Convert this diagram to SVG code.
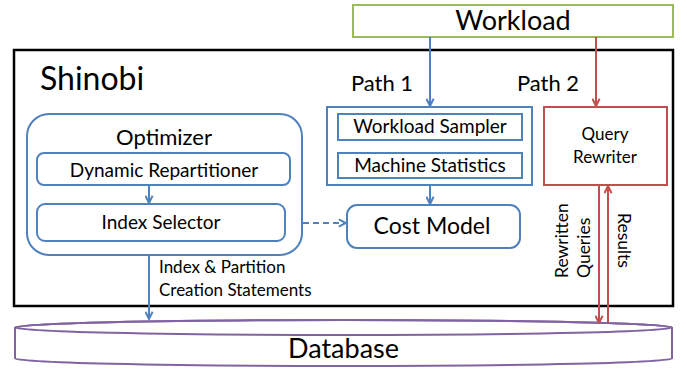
<svg xmlns="http://www.w3.org/2000/svg" width="687" height="369" viewBox="0 0 687 369">
  <defs>
    <marker id="arrowBlue" viewBox="0 0 10 10" refX="9" refY="5" markerWidth="9" markerHeight="9" markerUnits="userSpaceOnUse" orient="auto">
      <path d="M1,1 L9,5 L1,9" fill="none" stroke="#4F81BD" stroke-width="2.2"/>
    </marker>
    <marker id="arrowRed" viewBox="0 0 10 10" refX="9" refY="5" markerWidth="9" markerHeight="9" markerUnits="userSpaceOnUse" orient="auto">
      <path d="M1,1 L9,5 L1,9" fill="none" stroke="#C0504D" stroke-width="2.2"/>
    </marker>
  </defs>
  <style>
    text { font-family: Lato, "Liberation Sans", sans-serif; fill: #000; }
    .blue { fill: #fff; stroke: #4F81BD; stroke-width: 2; }
    .red { fill: #fff; stroke: #C0504D; stroke-width: 2; }
    .mid { text-anchor: middle; }
    .lb { stroke: #4F81BD; stroke-width: 2; fill: none; }
    .lr { stroke: #C0504D; stroke-width: 2; fill: none; }
  </style>

  <rect width="687" height="369" fill="#fff"/>

  <!-- outer system frame -->
  <g id="shinobi">
    <rect x="14" y="50" width="659" height="256" fill="#fff" stroke="#000" stroke-width="2.5"/>
    <text x="40" y="90" font-size="32">Shinobi</text>
  </g>

  <g id="workload">
    <rect x="353" y="5" width="320" height="32" fill="#fff" stroke="#9BBB59" stroke-width="2"/>
    <text x="513" y="30" font-size="27" class="mid">Workload</text>
  </g>

  <g id="path-labels">
    <text x="382" y="91" font-size="22" class="mid">Path 1</text>
    <text x="548" y="91" font-size="22" class="mid">Path 2</text>
  </g>

  <g id="optimizer">
    <rect x="27" y="114" width="275" height="141" rx="22" class="blue"/>
    <text x="164" y="145" font-size="22" class="mid">Optimizer</text>
  </g>

  <g id="dynamic-repartitioner">
    <rect x="37" y="153" width="253" height="32" rx="7" class="blue"/>
    <text x="164" y="177" font-size="19" class="mid">Dynamic Repartitioner</text>
  </g>

  <g id="index-selector">
    <rect x="37" y="204" width="248" height="37" rx="8" class="blue"/>
    <text x="161" y="229" font-size="19" class="mid">Index Selector</text>
  </g>

  <g id="statistics-group">
    <rect x="327" y="107" width="205" height="78" class="blue"/>
  </g>

  <g id="workload-sampler">
    <rect x="338" y="114" width="184" height="26" class="blue"/>
    <text x="430" y="133" font-size="19" class="mid">Workload Sampler</text>
  </g>

  <g id="machine-statistics">
    <rect x="338" y="153" width="184" height="25" class="blue"/>
    <text x="430" y="172" font-size="19" class="mid">Machine Statistics</text>
  </g>

  <g id="cost-model">
    <rect x="347" y="205" width="173" height="43" rx="10" class="blue"/>
    <text x="432" y="234" font-size="23" class="mid">Cost Model</text>
  </g>

  <g id="query-rewriter">
    <rect x="544" y="107" width="123" height="78" class="red"/>
    <text x="605" y="140" font-size="17" class="mid">Query</text>
    <text x="605" y="163" font-size="17" class="mid">Rewriter</text>
  </g>

  <g id="database">
    <path d="M15,327.5 A328.5,7.5 0 0 1 672,327.5 L672,358.5 A328.5,7.5 0 0 1 15,358.5 Z" fill="#fff" stroke="#8064A2" stroke-width="2"/>
    <ellipse cx="343.5" cy="327.5" rx="328.5" ry="7.5" fill="none" stroke="#8064A2" stroke-width="2"/>
    <text x="343.5" y="358" font-size="27" class="mid">Database</text>
  </g>

  <!-- connectors -->
  <g id="connectors">
    <line x1="430" y1="37" x2="430" y2="106" class="lb" marker-end="url(#arrowBlue)"/>
    <line x1="430" y1="186" x2="430" y2="204" class="lb" marker-end="url(#arrowBlue)"/>
    <line x1="149" y1="186" x2="149" y2="203" class="lb" marker-end="url(#arrowBlue)"/>
    <line x1="303" y1="223" x2="346" y2="223" class="lb" stroke-dasharray="6,4" marker-end="url(#arrowBlue)"/>
    <line x1="149" y1="256" x2="149" y2="319" class="lb" marker-end="url(#arrowBlue)"/>
    <line x1="596" y1="37" x2="596" y2="106" class="lr" marker-end="url(#arrowRed)"/>
    <line x1="599" y1="186" x2="599" y2="323" class="lr" marker-end="url(#arrowRed)"/>
    <line x1="608" y1="323" x2="608" y2="186" class="lr" marker-end="url(#arrowRed)"/>
  </g>

  <g id="connector-labels">
    <text x="159" y="273" font-size="17">Index &amp; Partition</text>
    <text x="159" y="296" font-size="17">Creation Statements</text>
    <text transform="translate(568,278) rotate(-90)" font-size="17.5">Rewritten</text>
    <text transform="translate(590,278) rotate(-90)" font-size="17.5">Queries</text>
    <text transform="translate(618,213) rotate(90)" font-size="17.5">Results</text>
  </g>
</svg>
